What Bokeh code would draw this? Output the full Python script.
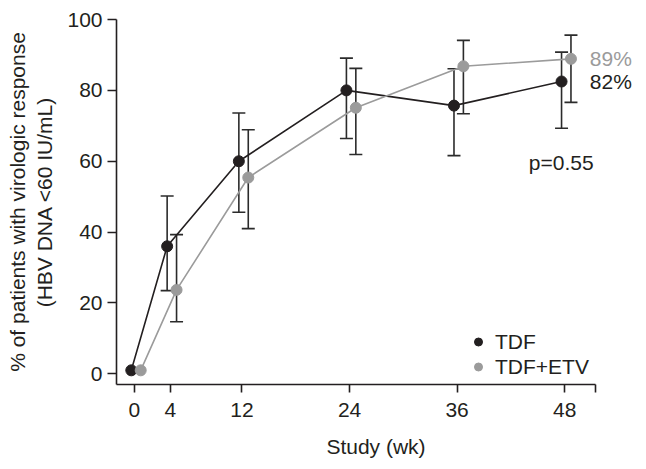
import math
from bokeh.plotting import figure
from bokeh.models import (ColumnDataSource, Whisker, TeeHead, FixedTicker, Legend, LegendItem,
                          Label)
from bokeh.embed import file_html
from bokeh.resources import INLINE
from bokeh.core.properties import value

# ---- data ----
weeks = [0, 4, 12, 24, 36, 48]
x_ticks = [0, 4, 12, 24, 36, 48]

tdf_mean = [1, 36, 60, 80, 75.7, 82.5]
tdf_upper = [50.2, 73.6, 89.1, 86.1, 90.8]   # weeks 4..48
tdf_lower = [23.5, 45.6, 66.4, 61.6, 69.3]

etv_mean = [1, 23.7, 55.4, 75.1, 86.8, 88.9]
etv_upper = [39.3, 68.9, 86.2, 94.1, 95.6]
etv_lower = [14.7, 41.0, 61.9, 73.4, 76.6]

series_names = ["TDF", "TDF+ETV"]
end_labels = ["82%", "89%"]
p_value_text = "p=0.55"

# ---- style ----
FONT = "Liberation Sans"
FS = "21px"
BLACK = "#231f20"
GREY = "#9b9b9b"
BAR = "#2b2b2b"
DODGE = {"TDF": -0.35, "TDF+ETV": 0.7}

p = figure(width=637, height=460, output_backend="svg", toolbar_location=None,
           x_range=(-2.0, 55.9), y_range=(-3, 100),
           min_border_left=116, min_border_right=2, min_border_top=19, min_border_bottom=76)
p.grid.visible = False
p.outline_line_color = None
p.background_fill_color = "white"

series = [
    ("TDF", tdf_mean, tdf_upper, tdf_lower, BLACK),
    ("TDF+ETV", etv_mean, etv_upper, etv_lower, GREY),
]

dot_rs = []
for name, mean, up, lo, col in series:
    xs = [w + DODGE[name] for w in weeks]
    src = ColumnDataSource(dict(x=xs, y=mean))
    p.line("x", "y", source=src, line_color=col, line_width=1.6)
    wsrc = ColumnDataSource(dict(x=xs[1:], upper=up, lower=lo))
    wh = Whisker(base="x", upper="upper", lower="lower", source=wsrc,
                 line_color=BAR, line_width=1.6,
                 upper_head=TeeHead(size=13, line_color=BAR, line_width=1.6),
                 lower_head=TeeHead(size=13, line_color=BAR, line_width=1.6))
    p.add_layout(wh)

for name, mean, up, lo, col in series:
    xs = [w + DODGE[name] for w in weeks]
    src = ColumnDataSource(dict(x=xs, y=mean))
    dr = p.scatter("x", "y", source=src, size=11, fill_color=col, line_color=col, marker="circle")
    dot_rs.append(dr)

# end labels
lab_src = ColumnDataSource(dict(x=[weeks[-1] + 2.8, weeks[-1] + 2.8],
                                y=[tdf_mean[-1], etv_mean[-1]],
                                t=end_labels, c=[BLACK, GREY]))
p.text("x", "y", text="t", source=lab_src, text_color="c", text_font=value(FONT),
       text_font_size=FS, text_baseline="middle", text_align="left")

p.add_layout(Label(x=44, y=59.7, text=p_value_text, text_font=FONT, text_font_size=FS,
                   text_color=BLACK, text_baseline="middle", text_align="left"))

# axes
xa = p.xaxis[0]
xa.ticker = FixedTicker(ticks=x_ticks + [51.4])
xa.major_label_overrides = {51.4: ""}
xa.bounds = (-2.0, 51.4)
xa.axis_label = "Study (wk)"
xa.major_tick_out = 8
xa.major_label_standoff = 10
xa.axis_label_standoff = 15

ya = p.yaxis[0]
ya.ticker = FixedTicker(ticks=[0, 20, 40, 60, 80, 100])
ya.axis_label = "% of patients with virologic response\n(HBV DNA <60 IU/mL)"
ya.major_tick_out = 9
ya.major_label_standoff = 5
ya.axis_label_standoff = 8

for ax in (xa, ya):
    ax.major_tick_in = 0
    ax.minor_tick_line_color = None
    ax.axis_line_color = BLACK
    ax.axis_line_width = 1.6
    ax.major_tick_line_color = BLACK
    ax.major_tick_line_width = 1.6
    ax.major_label_text_font = FONT
    ax.major_label_text_font_size = FS
    ax.major_label_text_color = BLACK
    ax.axis_label_text_font = FONT
    ax.axis_label_text_font_size = FS
    ax.axis_label_text_color = BLACK
    ax.axis_label_text_font_style = "normal"

legend = Legend(items=[LegendItem(label=n, renderers=[r]) for n, r in zip(series_names, dot_rs)],
                location=(352, 5), padding=0, margin=0, spacing=0,
                glyph_width=20, glyph_height=25, label_height=25, label_standoff=7,
                label_text_font=FONT, label_text_font_size=FS, label_text_color=BLACK,
                border_line_alpha=0, background_fill_alpha=0)
p.add_layout(legend)

open("out.html", "w").write(file_html(p, INLINE))
